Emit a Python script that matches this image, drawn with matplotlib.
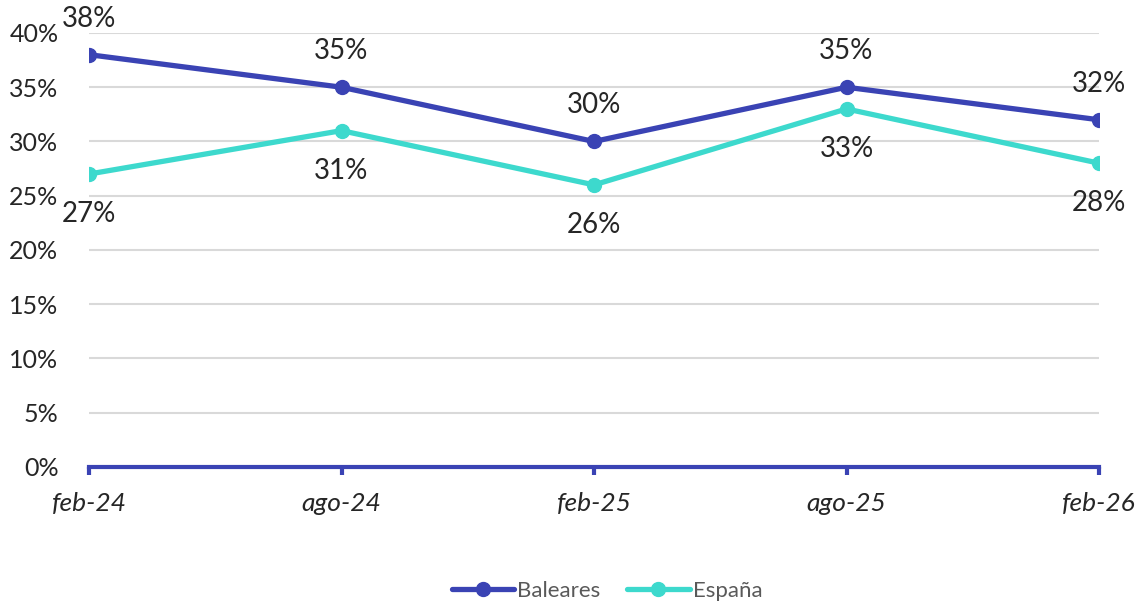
import matplotlib
matplotlib.use("Agg")
import matplotlib.pyplot as plt
from matplotlib.ticker import PercentFormatter

periods = ["feb-24", "ago-24", "feb-25", "ago-25", "feb-26"]
baleares = [38, 35, 30, 35, 32]
espana = [27, 31, 26, 33, 28]
y_ticks = [0, 5, 10, 15, 20, 25, 30, 35, 40]

col_bal = "#3A43B4"
col_esp = "#3DD9CD"
text_col = "#262626"

plt.rcParams["font.family"] = ["Lato", "DejaVu Sans"]

fig = plt.figure(figsize=(11.43, 6.05), dpi=100)
ax = fig.add_axes([0.0779, 0.2281, 0.8836, 0.7174])

x = list(range(len(periods)))
ax.plot(x, baleares, color=col_bal, lw=3.8, marker="o", ms=10, label="Baleares", zorder=4,
        solid_capstyle="round")
ax.plot(x, espana, color=col_esp, lw=3.8, marker="o", ms=10, label="España", zorder=3,
        solid_capstyle="round")

for xi, v in zip(x, baleares):
    ax.annotate(f"{v}%", (xi, v), xytext=(0, 26), textcoords="offset points",
                ha="center", va="center", fontsize=20, color=text_col, annotation_clip=False)
for xi, v in zip(x, espana):
    ax.annotate(f"{v}%", (xi, v), xytext=(0, -29), textcoords="offset points",
                ha="center", va="center", fontsize=20, color=text_col, annotation_clip=False)

ax.set_xlim(0, 4)
ax.set_ylim(0, 40)
ax.set_yticks(y_ticks)
ax.yaxis.set_major_formatter(PercentFormatter(decimals=0))
ax.set_xticks(x)
ax.set_xticklabels(periods, fontsize=19, style="italic", color=text_col)
ax.tick_params(axis="y", length=0, pad=22, labelsize=18, labelcolor=text_col)
ax.tick_params(axis="x", length=6, width=3, color=col_bal, pad=12, direction="out")

ax.grid(axis="y", color="#D9D9D9", lw=1.5)
ax.set_axisbelow(True)
for s in ["top", "right", "left"]:
    ax.spines[s].set_visible(False)
ax.spines["bottom"].set_color(col_bal)
ax.spines["bottom"].set_linewidth(3)
ax.spines["bottom"].set_zorder(5)

leg = ax.legend(loc="center", bbox_to_anchor=(0.513, -0.286), ncol=2, frameon=False,
                fontsize=16, handlelength=2.8, columnspacing=1.2, handletextpad=0.15,
                borderaxespad=0)
for t in leg.get_texts():
    t.set_color("#595959")

fig.savefig("out.png", dpi=100)
